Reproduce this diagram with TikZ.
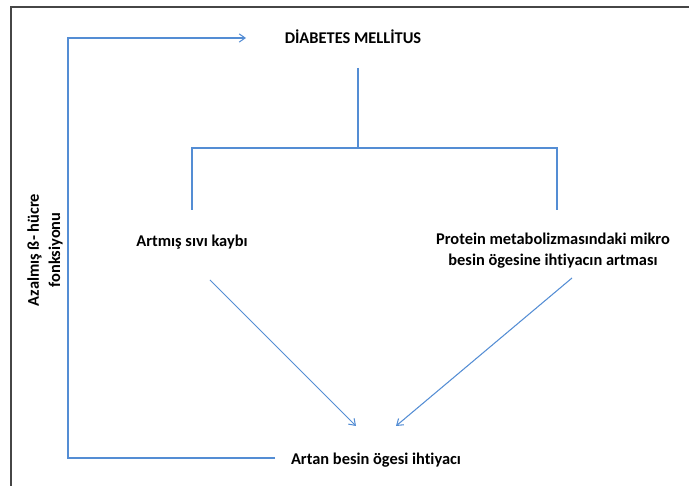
\documentclass[tikz,border=0pt]{standalone}
\usepackage{fontspec}
\setmainfont[Ligatures=NoCommon]{Carlito}
\usetikzlibrary{arrows.meta}
\definecolor{lineblue}{RGB}{84,141,212}
\definecolor{framegray}{RGB}{70,70,70}

\begin{document}
\begin{tikzpicture}[x=0.03cm,y=-0.03cm]
\tikzset{label/.style = {font=\bfseries\fontsize{14}{18}\selectfont,inner sep=0pt,align=center}}
\tikzset{line/.style = {draw=lineblue,line width=0.9pt}}
\tikzset{edge/.style = {line,-{Straight Barb[length=5pt,width=7pt]}}}
\useasboundingbox (0,0) rectangle (689,486);
\draw[framegray,line width=1.4pt] (689,7) -- (11,7) -- (11,486);
% texts
\node[label] (dm) at (353,37) {DİABETES MELLİTUS};
\node[label] (sivi) at (192,242) {Artmış sıvı kaybı};
\node[label] (prot) at (553,251) {Protein metabolizmasındaki mikro\\besin ögesine ihtiyacın artması};
\node[label] (artan) at (376,460) {Artan besin ögesi ihtiyacı};
\node[label,rotate=90] (beta) at (45,250) {Azalmış ß- hücre\\fonksiyonu};
% tree
\coordinate (top) at (358,68);
\coordinate (split) at (358,148);
\coordinate (left) at (192,148);
\coordinate (right) at (557,148);
\coordinate (lefte) at (192,210);
\coordinate (righte) at (557,210);
\draw[line] (top) -- (split);
\draw[line] (lefte) -- (left) -- (right) -- (righte);
% arrows to the bottom
\coordinate (sivis) at (210,280);
\coordinate (prots) at (572,278);
\coordinate (artl) at (356,426);
\coordinate (artr) at (396,426);
\draw[edge] (sivis) -- (artl);
\draw[edge] (prots) -- (artr);
% loop back
\coordinate (loopa) at (275,458);
\coordinate (c1) at (68,458);
\coordinate (c2) at (68,38);
\coordinate (loopb) at (246,38);
\draw[edge] (loopa) -- (c1) -- (c2) -- (loopb);
\end{tikzpicture}
\end{document}
